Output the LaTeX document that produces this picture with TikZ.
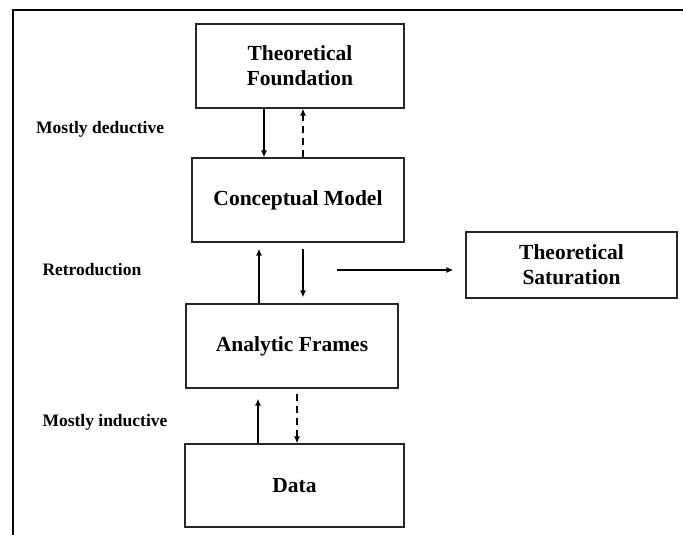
\documentclass[tikz,border=0pt]{standalone}
\usepackage{fontspec}
\setmainfont{Liberation Serif}
\usetikzlibrary{arrows.meta,calc}
\begin{document}
\begin{tikzpicture}[x=1pt,y=-1pt,
  box/.style={draw=black!85,line width=1.1pt,inner sep=0pt,align=center,
    font=\fontsize{21.5}{25}\selectfont\bfseries},
  lbl/.style={anchor=base west,inner sep=0pt,font=\fontsize{17.5}{20}\selectfont\bfseries},
  arr/.style={line width=1.5pt,-{Latex[length=7pt,width=6pt]}},
  darr/.style={arr,dash pattern=on 7pt off 5pt}]
\useasboundingbox (0,0) rectangle (683,535);
\fill[white] (0,0) rectangle (683,535);
% frame
\draw[line width=2pt] (12.5,535) -- (12.5,10) -- (683,10);
% boxes
\node[box,minimum width=208pt,minimum height=84pt] (tf) at (300,66) {Theoretical\\Foundation};
\node[box,minimum width=212pt,minimum height=84pt] (cm) at (298,200) {Conceptual Model};
\node[box,minimum width=212pt,minimum height=84pt] (af) at (292,346) {Analytic Frames};
\node[box,minimum width=219pt,minimum height=83pt] (data) at (294.5,485.5) {Data};
\node[box,minimum width=211pt,minimum height=66pt] (sat) at (571.5,265) {Theoretical\\Saturation};
% labels
\node[lbl] (l1) at (36,133) {Mostly deductive};
\node[lbl] (l2) at (42.3,275) {Retroduction};
\node[lbl] (l3) at (42.3,426) {Mostly inductive};
% column coordinates
\coordinate (c1) at (264,0);
\coordinate (c2) at (303,0);
\coordinate (c3) at (259,0);
\coordinate (c4) at (258,0);
\coordinate (c5) at (297,0);
\coordinate (hs) at (337,270);
% arrows
\draw[arr] (tf.south -| c1) -- (cm.north -| c1);
\draw[darr] (cm.north -| c2) -- (tf.south -| c2);
\draw[arr,shorten >=6pt] (af.north -| c3) -- (cm.south -| c3);
\draw[arr,shorten <=6pt,shorten >=6pt] (cm.south -| c2) -- (af.north -| c2);
\draw[arr,shorten >=12pt] (hs) -- (sat.west |- hs);
\draw[arr,shorten >=10pt] (data.north -| c4) -- (af.south -| c4);
\draw[darr,shorten <=5pt] (af.south -| c5) -- (data.north -| c5);
\end{tikzpicture}
\end{document}
